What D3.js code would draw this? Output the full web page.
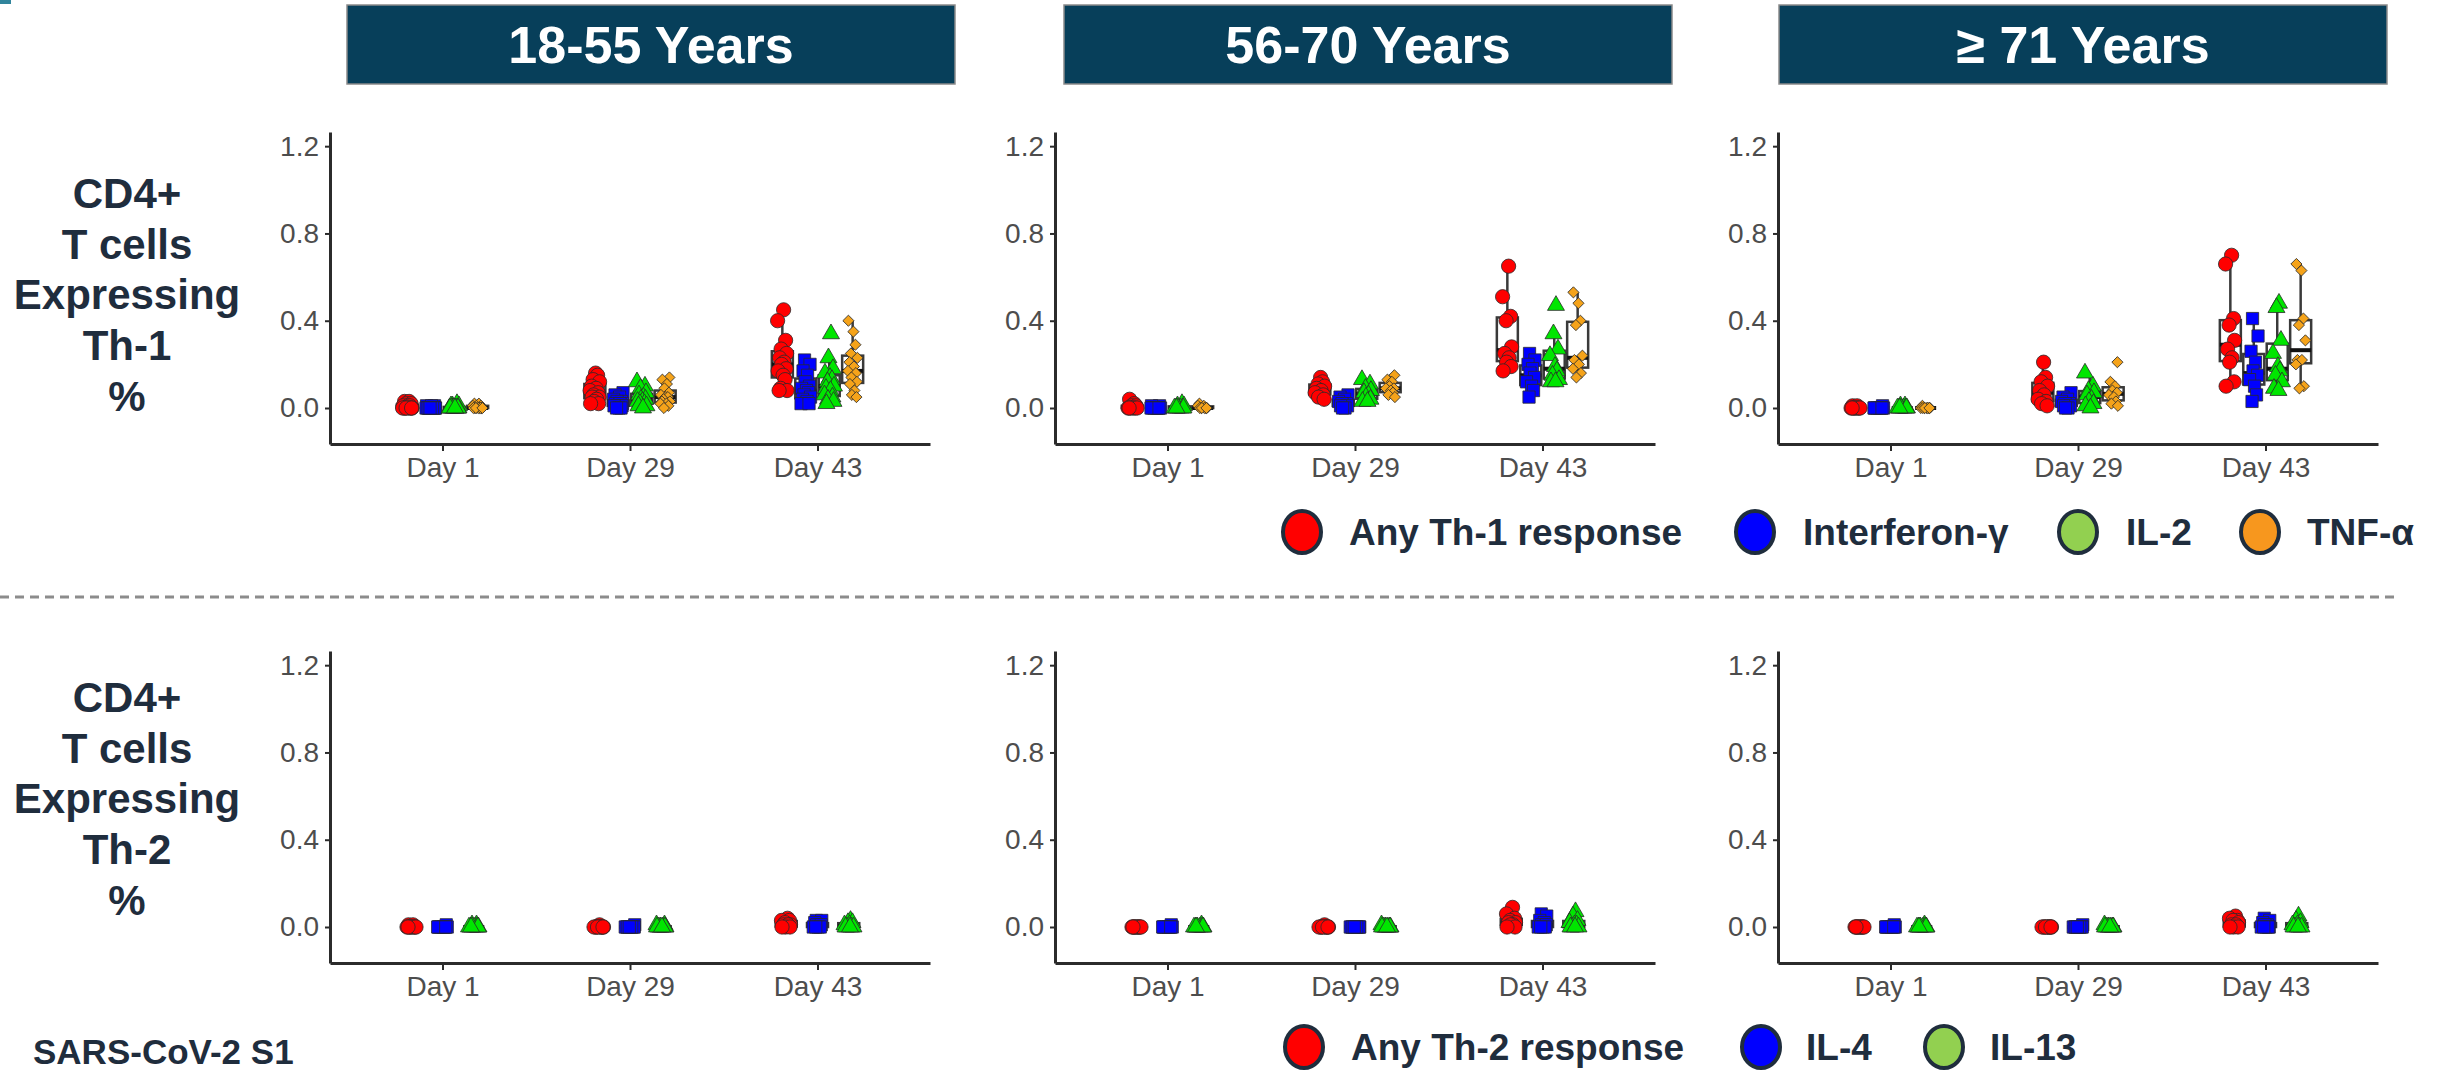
<!DOCTYPE html>
<html><head><meta charset="utf-8">
<script src="https://cdn.jsdelivr.net/npm/d3@7"></script>
<style>
html,body{margin:0;padding:0;background:#fff;}
svg{display:block;}
text{font-family:"Liberation Sans",Arial,sans-serif;}
</style></head>
<body>
<svg id="chart" width="2443" height="1070"></svg>
<script>
// ---------- DATA ----------
const ageGroups = ["18-55 Years", "56-70 Years", "\u2265 71 Years"];
const days = ["Day 1", "Day 29", "Day 43"];
const yTicks = [0.0, 0.4, 0.8, 1.2];
const th1Series = ["Any Th-1 response", "Interferon-\u03b3", "IL-2", "TNF-\u03b1"];
const th2Series = ["Any Th-2 response", "IL-4", "IL-13"];
const rowLabelTh1 = ["CD4+", "T cells", "Expressing", "Th-1", "%"];
const rowLabelTh2 = ["CD4+", "T cells", "Expressing", "Th-2", "%"];
const footnote = "SARS-CoV-2 S1";

// Th-1, 18-55 years: [Day 1, Day 29, Day 43]
const th1_1855_any = [
  [0.03,0.03,0.02,0.02,0.01,0.01,0.01,0.0,0.0,0.0,0.0,0.0,0.0,0.0,0.0],
  [0.16,0.15,0.13,0.12,0.10,0.09,0.08,0.07,0.06,0.05,0.05,0.04,0.03,0.02,0.02],
  [0.45,0.40,0.31,0.27,0.25,0.23,0.21,0.20,0.18,0.17,0.15,0.13,0.09,0.08,0.08]];
const th1_1855_ifn = [
  [0.01,0.01,0.01,0.0,0.0,0.0,0.0,0.0,0.0,0.0,0.0,0.0,0.0,0.0,0.0],
  [0.07,0.06,0.05,0.04,0.03,0.03,0.02,0.02,0.02,0.01,0.01,0.01,0.0,0.0,0.0],
  [0.22,0.20,0.17,0.15,0.12,0.10,0.09,0.08,0.07,0.06,0.05,0.04,0.03,0.02,0.02]];
const th1_1855_il2 = [
  [0.02,0.01,0.01,0.01,0.0,0.0,0.0,0.0,0.0,0.0,0.0,0.0,0.0,0.0,0.0],
  [0.12,0.10,0.09,0.07,0.06,0.05,0.04,0.04,0.03,0.03,0.02,0.02,0.01,0.01,0.0],
  [0.34,0.23,0.18,0.16,0.14,0.13,0.12,0.10,0.09,0.08,0.06,0.05,0.04,0.03,0.02]];
const th1_1855_tnf = [
  [0.02,0.02,0.01,0.01,0.01,0.0,0.0,0.0,0.0,0.0,0.0,0.0,0.0,0.0,0.0],
  [0.14,0.13,0.11,0.09,0.07,0.06,0.05,0.05,0.04,0.03,0.03,0.02,0.02,0.01,0.0],
  [0.40,0.35,0.29,0.25,0.23,0.21,0.19,0.17,0.16,0.14,0.12,0.11,0.08,0.06,0.05]];

// Th-1, 56-70 years
const th1_5670_any = [
  [0.04,0.02,0.01,0.01,0.0,0.0,0.0,0.0,0.0,0.0],
  [0.14,0.12,0.11,0.10,0.09,0.08,0.07,0.06,0.05,0.04],
  [0.65,0.51,0.42,0.40,0.28,0.25,0.23,0.21,0.19,0.17]];
const th1_5670_ifn = [
  [0.01,0.01,0.0,0.0,0.0,0.0,0.0,0.0,0.0,0.0],
  [0.06,0.05,0.04,0.03,0.02,0.02,0.01,0.01,0.0,0.0],
  [0.25,0.22,0.20,0.18,0.16,0.14,0.12,0.10,0.08,0.05]];
const th1_5670_il2 = [
  [0.02,0.01,0.01,0.0,0.0,0.0,0.0,0.0,0.0,0.0],
  [0.13,0.11,0.09,0.08,0.07,0.06,0.05,0.04,0.03,0.03],
  [0.47,0.34,0.27,0.24,0.19,0.17,0.15,0.13,0.12,0.12]];
const th1_5670_tnf = [
  [0.02,0.01,0.01,0.0,0.0,0.0,0.0,0.0,0.0,0.0],
  [0.15,0.13,0.12,0.10,0.09,0.09,0.08,0.07,0.06,0.05],
  [0.53,0.48,0.40,0.38,0.24,0.22,0.20,0.18,0.16,0.14]];

// Th-1, >= 71 years
const th1_71_any = [
  [0.01,0.01,0.0,0.0,0.0,0.0,0.0,0.0,0.0,0.0],
  [0.21,0.14,0.12,0.10,0.08,0.06,0.04,0.03,0.02,0.01],
  [0.70,0.66,0.41,0.38,0.31,0.27,0.23,0.21,0.12,0.10]];
const th1_71_ifn = [
  [0.01,0.0,0.0,0.0,0.0,0.0,0.0,0.0,0.0,0.0],
  [0.07,0.05,0.04,0.03,0.02,0.02,0.01,0.01,0.0,0.0],
  [0.41,0.33,0.26,0.21,0.17,0.15,0.13,0.10,0.06,0.03]];
const th1_71_il2 = [
  [0.01,0.01,0.0,0.0,0.0,0.0,0.0,0.0,0.0,0.0],
  [0.16,0.10,0.08,0.07,0.06,0.04,0.03,0.02,0.01,0.0],
  [0.48,0.46,0.31,0.25,0.19,0.17,0.15,0.12,0.09,0.08]];
const th1_71_tnf = [
  [0.01,0.0,0.0,0.0,0.0,0.0,0.0,0.0,0.0,0.0],
  [0.21,0.12,0.10,0.08,0.07,0.06,0.05,0.03,0.02,0.01],
  [0.66,0.63,0.41,0.38,0.31,0.22,0.22,0.20,0.10,0.09]];

// Th-2, 18-55 years
const th2_1855_any = [
  [0.01,0.01,0.0,0.0,0.0,0.0,0.0,0.0,0.0,0.0],
  [0.01,0.0,0.0,0.0,0.0,0.0,0.0,0.0,0.0,0.0],
  [0.04,0.03,0.03,0.02,0.01,0.01,0.01,0.0,0.0,0.0]];
const th2_1855_il4 = [
  [0.01,0.0,0.0,0.0,0.0,0.0,0.0,0.0,0.0,0.0],
  [0.01,0.0,0.0,0.0,0.0,0.0,0.0,0.0,0.0,0.0],
  [0.03,0.03,0.02,0.01,0.01,0.01,0.0,0.0,0.0,0.0]];
const th2_1855_il13 = [
  [0.01,0.01,0.0,0.0,0.0,0.0,0.0,0.0,0.0,0.0],
  [0.01,0.01,0.0,0.0,0.0,0.0,0.0,0.0,0.0,0.0],
  [0.03,0.02,0.02,0.01,0.01,0.0,0.0,0.0,0.0,0.0]];

// Th-2, 56-70 years
const th2_5670_any = [
  [0.0,0.0,0.0,0.0,0.0,0.0,0.0,0.0,0.0,0.0],
  [0.01,0.0,0.0,0.0,0.0,0.0,0.0,0.0,0.0,0.0],
  [0.09,0.06,0.04,0.03,0.02,0.02,0.01,0.01,0.0,0.0]];
const th2_5670_il4 = [
  [0.01,0.0,0.0,0.0,0.0,0.0,0.0,0.0,0.0,0.0],
  [0.0,0.0,0.0,0.0,0.0,0.0,0.0,0.0,0.0,0.0],
  [0.06,0.05,0.03,0.02,0.01,0.01,0.0,0.0,0.0,0.0]];
const th2_5670_il13 = [
  [0.01,0.0,0.0,0.0,0.0,0.0,0.0,0.0,0.0,0.0],
  [0.01,0.0,0.0,0.0,0.0,0.0,0.0,0.0,0.0,0.0],
  [0.07,0.05,0.03,0.02,0.01,0.01,0.0,0.0,0.0,0.0]];

// Th-2, >= 71 years
const th2_71_any = [
  [0.0,0.0,0.0,0.0,0.0,0.0,0.0,0.0,0.0,0.0],
  [0.0,0.0,0.0,0.0,0.0,0.0,0.0,0.0,0.0,0.0],
  [0.05,0.04,0.03,0.03,0.02,0.01,0.01,0.0,0.0,0.0]];
const th2_71_il4 = [
  [0.01,0.0,0.0,0.0,0.0,0.0,0.0,0.0,0.0,0.0],
  [0.01,0.0,0.0,0.0,0.0,0.0,0.0,0.0,0.0,0.0],
  [0.04,0.03,0.02,0.01,0.01,0.0,0.0,0.0,0.0,0.0]];
const th2_71_il13 = [
  [0.01,0.0,0.0,0.0,0.0,0.0,0.0,0.0,0.0,0.0],
  [0.01,0.0,0.0,0.0,0.0,0.0,0.0,0.0,0.0,0.0],
  [0.05,0.03,0.02,0.01,0.01,0.0,0.0,0.0,0.0,0.0]];

// ---------- STYLE ----------
const pointColors = ["#ff0000", "#0000ff", "#00e600", "#f5a31a"];
const legendColors = ["#ff0000", "#0000ff", "#92d050", "#f7971e"];
const shapes = ["circle", "square", "triangle", "diamond"];
const jitterPattern = [-0.55,0.35,-0.15,0.75,-0.85,0.15,0.55,-0.35,0.95,-0.65,0.25,-0.95,0.65,-0.25,0.85];
const navy = "#1f2d3d";

const th1Panels = [
  [th1_1855_any, th1_1855_ifn, th1_1855_il2, th1_1855_tnf],
  [th1_5670_any, th1_5670_ifn, th1_5670_il2, th1_5670_tnf],
  [th1_71_any, th1_71_ifn, th1_71_il2, th1_71_tnf]];
const th2Panels = [
  [th2_1855_any, th2_1855_il4, th2_1855_il13],
  [th2_5670_any, th2_5670_il4, th2_5670_il13],
  [th2_71_any, th2_71_il4, th2_71_il13]];

const svg = d3.select("#chart");

svg.append("rect").attr("x",0).attr("y",0).attr("width",11).attr("height",4).attr("fill","#31859c");

const headerX = [347, 1064, 1779];
ageGroups.forEach((g,i) => {
  svg.append("rect").attr("x",headerX[i]).attr("y",5).attr("width",608).attr("height",79)
    .attr("fill","#073f5a").attr("stroke","#8a8a8a").attr("stroke-width",1.5);
  svg.append("text").attr("x",headerX[i]+304).attr("y",63).attr("text-anchor","middle")
    .attr("fill","#fff").attr("font-weight","bold").attr("font-size",52).text(g);
});

function rowLabel(lines, y0){
  lines.forEach((t,i)=>{
    svg.append("text").attr("x",127).attr("y",y0+i*50.7).attr("text-anchor","middle")
      .attr("fill",navy).attr("font-weight","bold").attr("font-size",42).text(t);
  });
}
rowLabel(rowLabelTh1, 208);
rowLabel(rowLabelTh2, 712);

svg.append("text").attr("x",33).attr("y",1064).attr("fill",navy).attr("font-weight","bold")
  .attr("font-size",35).text(footnote);

svg.append("line").attr("x1",0).attr("x2",2399).attr("y1",597).attr("y2",597)
  .attr("stroke","#8c8c8c").attr("stroke-width",3).attr("stroke-dasharray","9,6");

const axisX0 = [330, 1055, 1778];
const axisLen = 600;

function symbolPath(shape){
  if(shape==="circle") return d3.symbol(d3.symbolCircle, 160)();
  if(shape==="square") return d3.symbol(d3.symbolSquare, 150)();
  if(shape==="triangle") return d3.symbol(d3.symbolTriangle, 125)();
  return d3.symbol(d3.symbolSquare, 62)();
}

function drawPanel(panelData, seriesNames, px, yRange){
  const g = svg.append("g");
  const x = d3.scalePoint().domain(days).range([px, px+axisLen]).padding(0.6);
  const y = d3.scaleLinear().domain([-0.165, 1.265]).range(yRange);
  const step = x.step();
  const dodge = d3.scaleBand().domain(seriesNames).range([-0.25*step, 0.25*step]);
  const boxW = 0.112*step;

  const ya = g.append("g").attr("transform",`translate(${px},0)`)
    .call(d3.axisLeft(y).tickValues(yTicks).tickFormat(d3.format(".1f")).tickSize(5).tickSizeOuter(0).tickPadding(6));
  const xa = g.append("g").attr("transform",`translate(0,${yRange[0]})`)
    .call(d3.axisBottom(x).tickSize(7).tickSizeOuter(0).tickPadding(6));
  [ya,xa].forEach(a=>{
    a.select(".domain").attr("stroke","#2b2b2b").attr("stroke-width",3);
    a.selectAll(".tick line").attr("stroke","#2b2b2b").attr("stroke-width",2);
    a.selectAll(".tick text").attr("fill","#4d4d4d").attr("font-size",28)
      .attr("font-family",'"Liberation Sans",Arial,sans-serif');
  });

  seriesNames.forEach((s,si)=>{
    days.forEach((d,di)=>{
      const vals = panelData[si][di].slice().sort(d3.ascending);
      const q1 = d3.quantile(vals,0.25), med = d3.quantile(vals,0.5), q3 = d3.quantile(vals,0.75);
      const iqr = q3-q1;
      const lo = d3.min(vals.filter(v=>v>=q1-1.5*iqr));
      const hi = d3.max(vals.filter(v=>v<=q3+1.5*iqr));
      const cx = x(d) + dodge(s) + dodge.bandwidth()/2;
      g.append("line").attr("x1",cx).attr("x2",cx).attr("y1",y(hi)).attr("y2",y(q3))
        .attr("stroke","#3a3a3a").attr("stroke-width",2.5);
      g.append("line").attr("x1",cx).attr("x2",cx).attr("y1",y(lo)).attr("y2",y(q1))
        .attr("stroke","#3a3a3a").attr("stroke-width",2.5);
      g.append("rect").attr("x",cx-boxW/2).attr("width",boxW)
        .attr("y",y(q3)).attr("height",Math.max(0,y(q1)-y(q3)))
        .attr("fill","#fff").attr("stroke","#3a3a3a").attr("stroke-width",2.5);
      g.append("line").attr("x1",cx-boxW/2).attr("x2",cx+boxW/2).attr("y1",y(med)).attr("y2",y(med))
        .attr("stroke","#111").attr("stroke-width",4);
    });
  });

  seriesNames.forEach((s,si)=>{
    days.forEach((d,di)=>{
      const cx = x(d) + dodge(s) + dodge.bandwidth()/2;
      const path = symbolPath(shapes[si]);
      panelData[si][di].forEach((v,k)=>{
        const jx = jitterPattern[(k + si*3 + di*5) % jitterPattern.length]*5;
        g.append("path").attr("d",path)
          .attr("transform",`translate(${cx+jx},${y(v)})` + (shapes[si]==="diamond" ? " rotate(45)" : ""))
          .attr("fill",pointColors[si]).attr("stroke","#2a2a2a").attr("stroke-width",0.8);
      });
    });
  });
}

th1Panels.forEach((p,i)=>drawPanel(p, th1Series, axisX0[i], [444,132]));
th2Panels.forEach((p,i)=>drawPanel(p, th2Series, axisX0[i], [963,651]));

function legend(names, circleX, textX, cy){
  names.forEach((n,i)=>{
    svg.append("ellipse").attr("cx",circleX[i]).attr("cy",cy).attr("rx",19).attr("ry",21)
      .attr("fill",legendColors[i]).attr("stroke",navy).attr("stroke-width",4);
    svg.append("text").attr("x",textX[i]).attr("y",cy+13).attr("fill",navy)
      .attr("font-weight","bold").attr("font-size",37).text(n);
  });
}
legend(th1Series, [1302,1755,2078,2260], [1349,1803,2126,2307], 532);
legend(th2Series, [1304,1761,1944], [1351,1806,1990], 1047);
</script>
</body></html>
